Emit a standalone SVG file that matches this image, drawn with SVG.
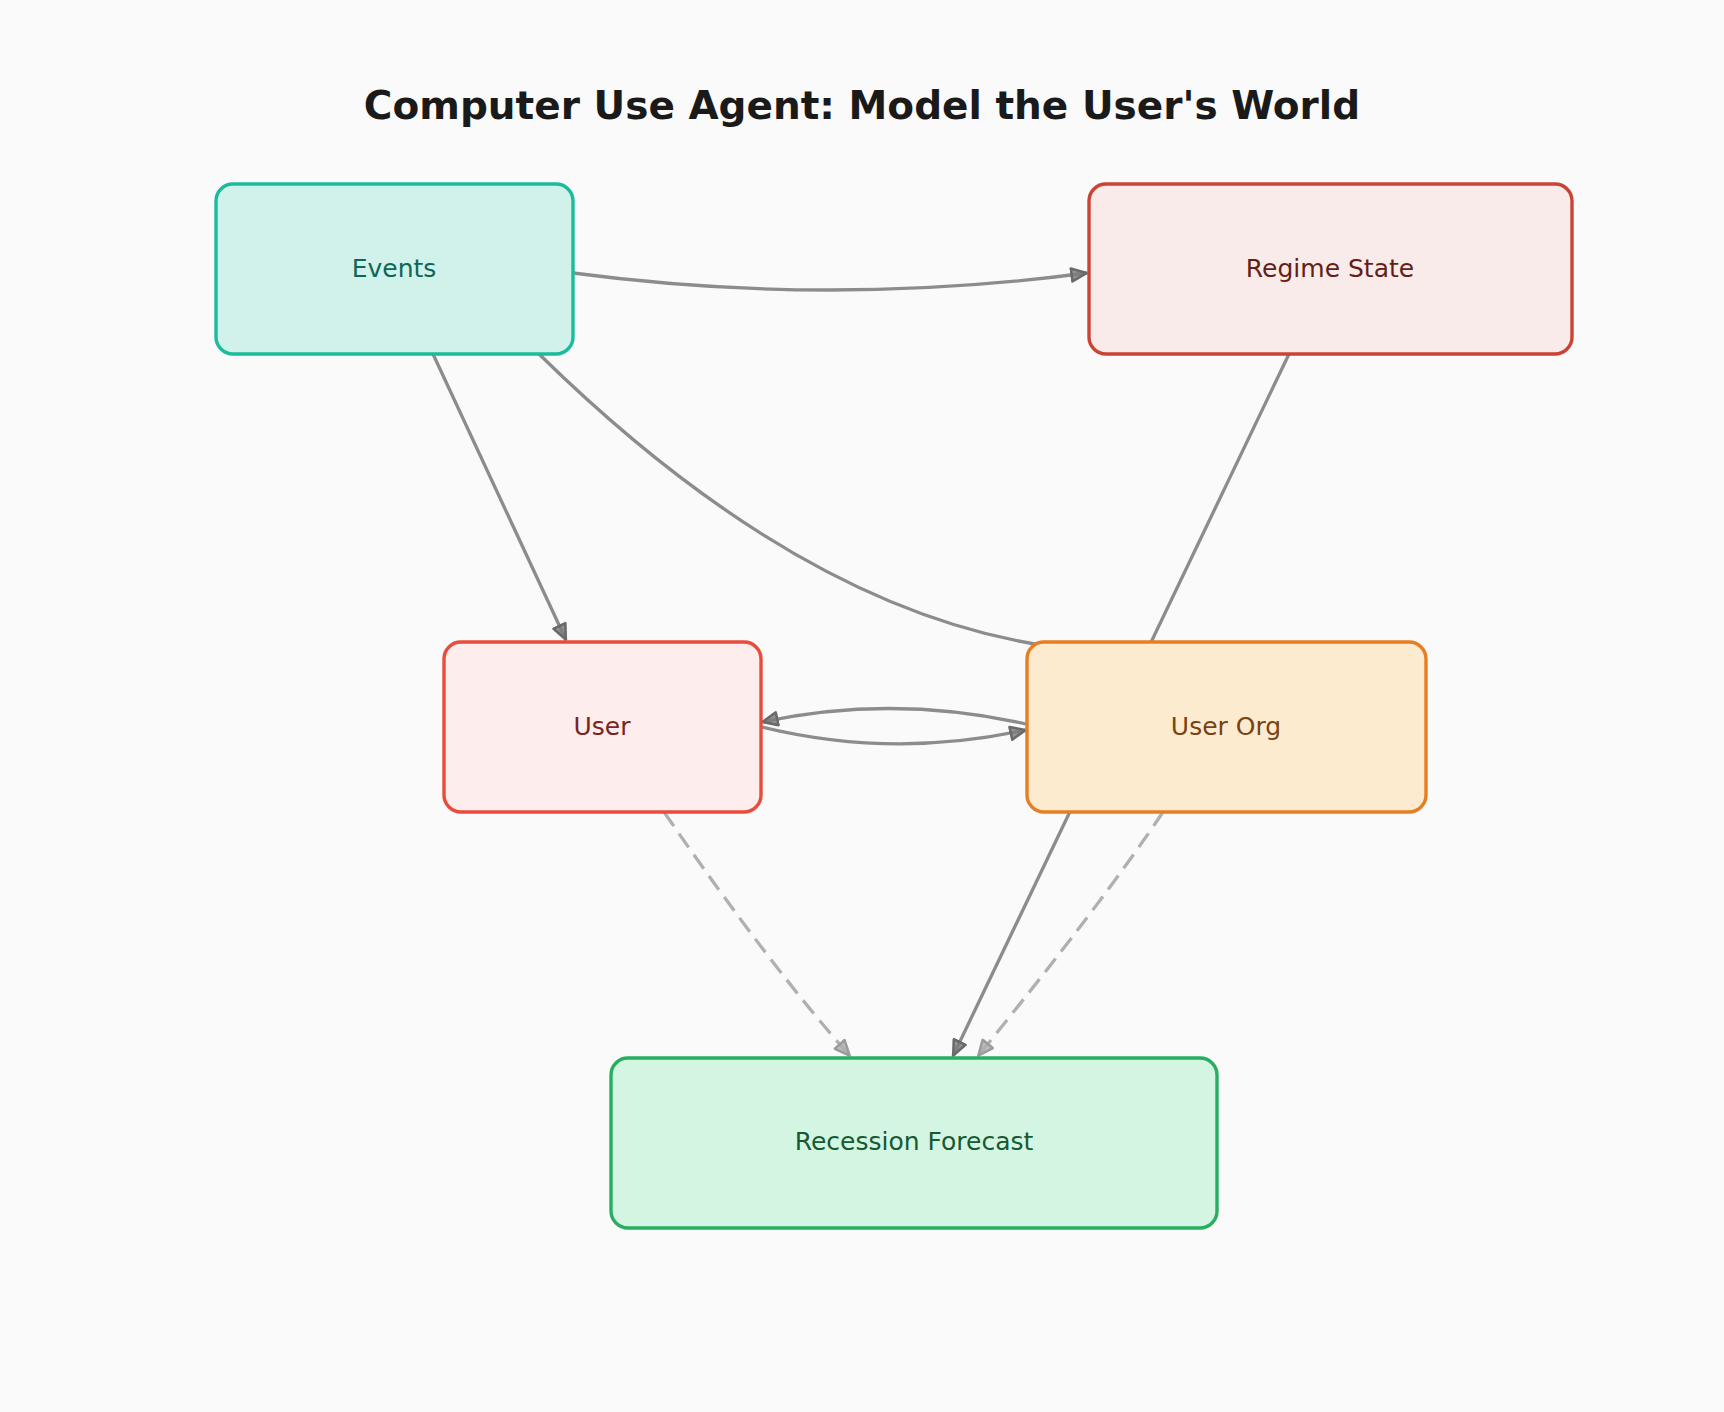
<svg xmlns="http://www.w3.org/2000/svg" width="1724" height="1412" viewBox="0 0 1724 1412">
<defs>
<style>
.title{font-family:"DejaVu Sans",sans-serif;font-weight:bold;font-size:39px;fill:#1a1a1a;text-anchor:middle}
.lbl{font-family:"DejaVu Sans",sans-serif;font-size:25px;text-anchor:middle}
.box{stroke-width:3.4}
.edge{fill:none;stroke:#8c8c8c;stroke-width:3.3}
.dash{fill:none;stroke:#b0b0b0;stroke-width:3.3;stroke-dasharray:17 9}
</style>
<marker id="ah" viewBox="0 0 18 16" refX="17" refY="8" markerWidth="18" markerHeight="16" orient="auto" markerUnits="userSpaceOnUse">
<path d="M1.5,1.5 L16.5,8 L1.5,14.5 z" fill="#7a7a7a" fill-opacity="0.8" stroke="#6a6a6a" stroke-width="2.6" stroke-linejoin="round"/>
</marker>
<marker id="ahd" viewBox="0 0 18 16" refX="17" refY="8" markerWidth="18" markerHeight="16" orient="auto" markerUnits="userSpaceOnUse">
<path d="M1.5,1.5 L16.5,8 L1.5,14.5 z" fill="#b0b0b0" fill-opacity="0.8" stroke="#9c9c9c" stroke-width="2.6" stroke-linejoin="round"/>
</marker>
</defs>
<rect x="0" y="0" width="1724" height="1412" fill="#fafafa"/>
<text class="title" x="862" y="119">Computer Use Agent: Model the User's World</text>
<g id="connectors">
<path class="edge" d="M573,273 Q830,307 1087,273" marker-end="url(#ah)"/>
<path class="edge" d="M433,354 L566,640" marker-end="url(#ah)"/>
<path class="edge" d="M539,354 Q800,610 1048,646"/>
<path class="edge" d="M1289,354 L953,1056" marker-end="url(#ah)"/>
<path class="edge" d="M1026,724 Q893,694 762,722" marker-end="url(#ah)"/>
<path class="edge" d="M762,727 Q893,759 1026,730" marker-end="url(#ah)"/>
<path class="dash" d="M664,812 Q771,967 850,1056" marker-end="url(#ahd)"/>
<path class="dash" d="M1163,812 Q1103,902 978,1056" marker-end="url(#ahd)"/>
</g>
<g id="events">
<rect class="box" x="216" y="184" width="357" height="170" rx="17" fill="#d1f2eb" stroke="#1abc9c"/>
<text class="lbl" x="394" y="277" fill="#0e6655">Events</text>
</g>
<g id="regime-state">
<rect class="box" x="1089" y="184" width="483" height="170" rx="17" fill="#f9ebea" stroke="#cb4335"/>
<text class="lbl" x="1330" y="277" fill="#641e16">Regime State</text>
</g>
<g id="user">
<rect class="box" x="444" y="642" width="317" height="170" rx="17" fill="#fdeded" stroke="#e74c3c"/>
<text class="lbl" x="602" y="735" fill="#7b241c">User</text>
</g>
<g id="user-org">
<rect class="box" x="1027" y="642" width="399" height="170" rx="17" fill="#fdebd0" stroke="#e67e22"/>
<text class="lbl" x="1226" y="735" fill="#784212">User Org</text>
</g>
<g id="recession-forecast">
<rect class="box" x="611" y="1058" width="606" height="170" rx="17" fill="#d5f5e3" stroke="#27ae60"/>
<text class="lbl" x="914" y="1150" fill="#145a32">Recession Forecast</text>
</g>
</svg>
